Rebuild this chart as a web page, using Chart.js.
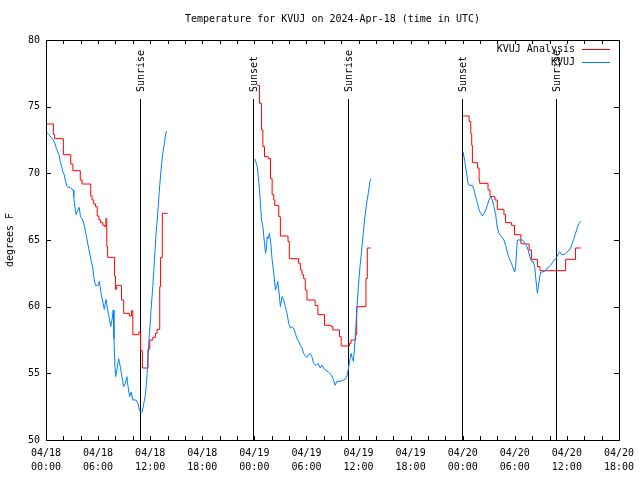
<!DOCTYPE html>
<html>
<head>
<meta charset="utf-8">
<script src="https://cdn.jsdelivr.net/npm/chart.js@4.4.1/dist/chart.umd.min.js"></script>
<style>
  html, body { margin: 0; padding: 0; background: #fff; }
  canvas { display: block; }
</style>
</head>
<body>
<canvas id="tempChart" width="640" height="480"></canvas>
<script>
// Hours since 04/18 00:00 UTC; a null temperature breaks the line between days
const analysisHours = [
  0, 0.85, 1.0, 2.0, 2.85, 3.1, 3.95, 4.15, 5.15, 5.3, 5.5, 5.7, 5.9, 6.1, 6.3, 6.55, 6.75, 6.9, 7.0, 7.1,
  7.9, 8.0, 8.15, 8.7, 8.95, 9.6, 9.85, 10.0, 10.7, 10.9, 11.1, 11.75, 11.95, 12.3, 12.6, 12.8, 13.1, 13.2, 13.4, 14.0,
  20,
  24.33, 24.6, 24.83, 24.98, 25.17, 25.59, 25.86, 26.05, 26.24, 26.35, 26.81, 27.0, 27.88, 28.03, 29.1, 29.3, 29.49,
  29.68, 29.87, 30.06, 31.0, 31.32, 32.08, 32.85, 33.04, 33.8, 34.0, 34.95, 35.14, 35.67, 35.79, 36.86, 37.01, 37.43,
  44,
  48.05, 48.74, 48.93, 49.04, 49.12, 49.7, 49.89, 49.96, 50.92, 51.15, 51.72, 51.99, 52.75, 52.94, 53.63, 53.97,
  54.7, 54.96, 55.65, 55.92, 56.61, 56.91, 59.86, 61.0, 61.6
];
const analysisTemps = [
  73.7, 72.9, 72.6, 71.4, 70.7, 70.2, 69.5, 69.2, 68.3, 68.0, 67.7, 67.5, 66.8, 66.5, 66.3, 66.1, 66.0, 66.6, 64.5, 63.7,
  62.3, 61.3, 61.6, 60.5, 59.5, 59.3, 59.7, 57.9, 58.1, 56.7, 55.4, 56.8, 57.5, 57.7, 58.0, 58.3, 61.5, 63.7, 67.0, 67.0,
  null,
  76.6, 75.25, 73.25, 72.0, 71.25, 71.1, 69.6, 68.4, 68.0, 67.6, 66.75, 65.3, 64.9, 63.6, 63.25, 62.75, 62.4,
  62.1, 61.25, 60.5, 60.1, 59.4, 58.6, 58.5, 58.25, 57.75, 57.05, 57.25, 57.5, 57.9, 60.0, 62.1, 64.4, 64.4,
  null,
  74.3, 73.9, 73.0, 72.1, 70.8, 70.4, 69.5, 69.25, 68.75, 68.25, 68.0, 67.3, 66.9, 66.3, 66.1, 65.4,
  64.75, 64.7, 64.25, 63.55, 63.0, 62.7, 63.55, 64.4, 64.4
];

const obsHours = [
  0.05, 0.35, 0.73, 1.03, 1.22, 1.49, 1.68, 1.95, 2.1, 2.25, 2.44, 2.83, 3.13, 3.2, 3.32, 3.47, 3.67, 3.82, 3.97, 4.24,
  4.43, 4.66, 4.85, 5.0, 5.19, 5.39, 5.5, 5.69, 6.0, 6.15, 6.34, 6.53, 6.72, 6.91, 7.1, 7.3, 7.45, 7.6, 7.75, 7.83,
  7.94, 8.02, 8.17, 8.36, 8.56, 8.75, 8.94, 9.13, 9.32, 9.45, 9.63, 9.81, 10.0, 10.39, 10.58, 10.77, 10.89, 11.08, 11.27, 11.42,
  11.54, 11.65, 11.76, 11.92, 12.1, 12.3, 12.49, 12.68, 12.87, 13.06, 13.25, 13.45, 13.64, 13.83, 13.95,
  20,
  24.06, 24.33, 24.45, 24.6, 24.72, 24.83, 24.98, 25.13, 25.29, 25.36, 25.48, 25.59, 25.74, 25.9, 26.05, 26.24, 26.43, 26.55,
  26.7, 26.81, 27.0, 27.19, 27.38, 27.57, 27.77, 27.96, 28.15, 28.34, 28.53, 28.72, 28.91, 29.1, 29.3, 29.49, 29.68, 29.87,
  30.06, 30.25, 30.44, 30.63, 30.82, 31.09, 31.32, 31.59, 31.78, 31.97, 32.16, 32.54, 32.85, 33.12, 33.31, 33.5, 33.88, 34.26,
  34.53, 34.72, 34.84, 35.03, 35.14, 35.3, 35.41, 35.52, 35.67, 35.83, 35.98, 36.17, 36.36, 36.55, 36.74, 36.93, 37.13, 37.32, 37.43,
  44,
  48.05, 48.24, 48.43, 48.63, 48.74, 49.12, 49.31, 49.5, 49.7, 49.89, 50.08, 50.27, 50.46, 50.65, 50.84, 51.03, 51.23, 51.41,
  51.6, 51.8, 51.99, 52.18, 52.48, 52.75, 52.94, 53.13, 53.32, 53.51, 53.7, 53.9, 54.0, 54.1, 54.24, 54.32, 54.9, 55.16,
  55.35, 55.54, 55.73, 55.92, 56.11, 56.3, 56.42, 56.52, 56.6, 56.72, 56.87, 56.99, 57.18, 57.56, 57.75, 57.95, 58.14, 58.33,
  58.52, 58.71, 58.9, 59.09, 59.21, 59.4, 59.67, 59.86, 60.05, 60.24, 60.43, 60.62, 60.81, 61.0, 61.2, 61.39, 61.58
];
const obsTemps = [
  73.1, 72.9, 72.6, 72.25, 71.8, 71.4, 70.8, 70.1, 69.9, 69.4, 69.0, 68.9, 68.75, 68.25, 67.5, 66.9, 67.25, 67.45, 66.75, 66.5,
  66.0, 65.25, 64.6, 64.1, 63.5, 62.9, 62.25, 61.6, 61.6, 61.9, 61.0, 60.4, 59.8, 60.55, 59.75, 59.1, 58.5, 59.0, 59.75, 57.6,
  55.5, 54.75, 55.25, 56.1, 55.5, 54.75, 54.0, 54.25, 54.75, 54.0, 53.25, 53.6, 53.0, 53.0, 52.75, 52.25, 52.1, 52.1, 52.75, 53.25,
  54.0, 55.0, 56.5, 58.0, 59.75, 61.5, 63.5, 65.5, 67.0, 68.75, 70.25, 71.5, 72.25, 73.1, 73.1,
  null,
  71.1, 70.5, 69.75, 68.75, 67.5, 66.5, 66.0, 65.0, 64.0, 64.25, 65.25, 65.1, 65.5, 64.75, 63.5, 62.5, 61.25, 61.5,
  61.9, 61.25, 60.0, 60.75, 60.5, 60.0, 59.5, 58.75, 58.4, 58.5, 58.4, 58.0, 57.6, 57.4, 57.1, 56.9, 56.5, 56.3,
  56.2, 56.4, 56.5, 56.25, 55.75, 55.6, 55.75, 55.4, 55.6, 55.4, 55.25, 55.1, 54.9, 54.5, 54.1, 54.4, 54.4, 54.5,
  54.6, 54.9, 55.4, 56.1, 56.5, 56.1, 55.9, 56.75, 58.25, 60.0, 61.5, 63.0, 64.25, 65.5, 66.75, 67.75, 68.5, 69.4, 69.6,
  null,
  71.6, 70.9, 70.1, 69.2, 69.1, 69.1, 68.75, 68.25, 67.75, 67.25, 67.0, 66.8, 67.0, 67.25, 67.6, 68.0, 68.25, 68.0,
  67.5, 66.9, 65.9, 65.5, 65.25, 65.0, 64.6, 64.1, 63.7, 63.4, 63.1, 62.75, 62.6, 63.0, 64.5, 65.0, 65.0, 64.75,
  64.6, 64.25, 63.75, 63.4, 63.4, 63.0, 62.1, 61.5, 61.0, 61.5, 62.25, 62.6, 62.6, 62.7, 62.9, 63.0, 63.1, 63.3,
  63.5, 63.6, 63.8, 64.05, 64.1, 63.9, 63.9, 64.0, 64.1, 64.25, 64.4, 64.75, 65.1, 65.5, 65.9, 66.25, 66.4
];

const sunHours = [10.83, 23.87, 34.8, 47.88, 58.75];
const sunLabels = ["Sunrise", "Sunset", "Sunrise", "Sunset", "Sunrise"];

const xTickLabels = [
  "04/18 00:00", "04/18 06:00", "04/18 12:00", "04/18 18:00",
  "04/19 00:00", "04/19 06:00", "04/19 12:00", "04/19 18:00",
  "04/20 00:00", "04/20 06:00", "04/20 12:00", "04/20 18:00"
];

const seriesNames = ["KVUJ Analysis", "KVUJ"];
const seriesColors = ["#ff0000", "#0080ff"];
const chartTitle = "Temperature for KVUJ on 2024-Apr-18 (time in UTC)";
const yTitle = "degrees F";

const FONT = "DejaVu Sans Mono";

function toPoints(hours, temps) {
  return hours.map((h, i) => ({ x: h, y: temps[i] }));
}

// Titles, sun markers, frame, ticks and legend drawn the gnuplot way
const decorations = {
  id: "decorations",
  beforeDatasetsDraw(chart) {
    const ctx = chart.ctx;
    const area = chart.chartArea;
    const xs = chart.scales.x;
    ctx.save();
    ctx.strokeStyle = "#000";
    ctx.lineWidth = 1;
    const top = Math.round(area.top + (area.bottom - area.top) * 0.1475);
    sunHours.forEach((h) => {
      const x = Math.round(xs.getPixelForValue(h)) + 0.5;
      ctx.beginPath();
      ctx.moveTo(x, top);
      ctx.lineTo(x, area.bottom);
      ctx.stroke();
    });
    ctx.restore();
  },
  afterDatasetsDraw(chart) {
    const ctx = chart.ctx;
    const area = chart.chartArea;
    const xs = chart.scales.x;
    const ys = chart.scales.y;
    ctx.save();
    ctx.strokeStyle = "#000";
    ctx.lineWidth = 1;
    ctx.beginPath();
    // x ticks every 2 hours, bottom and top
    for (let h = xs.min; h <= xs.max; h += 2) {
      const x = Math.round(xs.getPixelForValue(h)) + 0.5;
      ctx.moveTo(x, area.bottom);
      ctx.lineTo(x, area.bottom - 4);
      ctx.moveTo(x, area.top);
      ctx.lineTo(x, area.top + 4);
    }
    // y ticks left and right
    for (let v = ys.min; v <= ys.max; v += 5) {
      const y = Math.round(ys.getPixelForValue(v)) + 0.5;
      ctx.moveTo(area.left, y);
      ctx.lineTo(area.left + 5, y);
      ctx.moveTo(area.right, y);
      ctx.lineTo(area.right - 5, y);
    }
    ctx.stroke();
    ctx.strokeRect(Math.round(area.left) + 0.5, Math.round(area.top) + 0.5,
      Math.round(area.right - area.left), Math.round(area.bottom - area.top));
    ctx.restore();
  },
  afterDraw(chart) {
    const ctx = chart.ctx;
    const area = chart.chartArea;
    const xs = chart.scales.x;
    ctx.save();
    ctx.fillStyle = "#000";
    ctx.font = "10px '" + FONT + "'";

    // title
    ctx.textAlign = "center";
    ctx.textBaseline = "middle";
    ctx.fillText(chartTitle, (area.left + area.right) / 2, 19);

    // y axis title
    ctx.save();
    ctx.translate(10, (area.top + area.bottom) / 2);
    ctx.rotate(-Math.PI / 2);
    ctx.fillText(yTitle, 0, 0);
    ctx.restore();

    // sunrise / sunset labels
    const labelBase = Math.round(area.top + (area.bottom - area.top) * 0.13);
    sunHours.forEach((h, i) => {
      const x = Math.round(xs.getPixelForValue(h)) + 1;
      ctx.save();
      ctx.translate(x, labelBase);
      ctx.rotate(-Math.PI / 2);
      ctx.textAlign = "left";
      ctx.textBaseline = "middle";
      ctx.fillText(sunLabels[i], 0, 0);
      ctx.restore();
    });

    // legend, top right
    ctx.textAlign = "right";
    ctx.textBaseline = "middle";
    seriesNames.forEach((name, i) => {
      const y = 49.5 + i * 13;
      ctx.fillStyle = "#000";
      ctx.fillText(name, 575, y);
      ctx.strokeStyle = seriesColors[i];
      ctx.lineWidth = 1;
      ctx.beginPath();
      ctx.moveTo(582, y);
      ctx.lineTo(610, y);
      ctx.stroke();
    });
    ctx.restore();
  }
};

const ctx = document.getElementById("tempChart").getContext("2d");
const tempChart = new Chart(ctx, {
  type: "line",
  data: {
    datasets: [
      {
        label: seriesNames[0],
        data: toPoints(analysisHours, analysisTemps),
        borderColor: seriesColors[0],
        borderWidth: 1,
        pointRadius: 0,
        stepped: true,
        spanGaps: false,
        order: 1
      },
      {
        label: seriesNames[1],
        data: toPoints(obsHours, obsTemps),
        borderColor: seriesColors[1],
        borderWidth: 1,
        pointRadius: 0,
        tension: 0,
        spanGaps: false,
        order: 0
      }
    ]
  },
  options: {
    responsive: false,
    animation: false,
    devicePixelRatio: 1,
    layout: {
      padding: { top: 40, right: 18, left: 0, bottom: 0 }
    },
    scales: {
      x: {
        type: "linear",
        min: 0,
        max: 66,
        afterFit: (scale) => { scale.height = 40; },
        grid: { display: false, drawTicks: false },
        border: { display: false },
        ticks: {
          stepSize: 2,
          autoSkip: false,
          maxRotation: 0,
          padding: 6,
          color: "#000",
          font: { family: FONT, size: 10, lineHeight: 1.4 },
          callback: (value) => (value % 6 === 0 ? xTickLabels[value / 6].split(" ") : "")
        }
      },
      y: {
        min: 50,
        max: 80,
        afterFit: (scale) => { scale.width = 46; },
        grid: { display: false, drawTicks: false },
        border: { display: false },
        ticks: {
          stepSize: 5,
          padding: 6,
          color: "#000",
          font: { family: FONT, size: 10 }
        }
      }
    },
    plugins: {
      legend: { display: false },
      title: { display: false },
      tooltip: { enabled: false }
    }
  },
  plugins: [decorations]
});
</script>
</body>
</html>
